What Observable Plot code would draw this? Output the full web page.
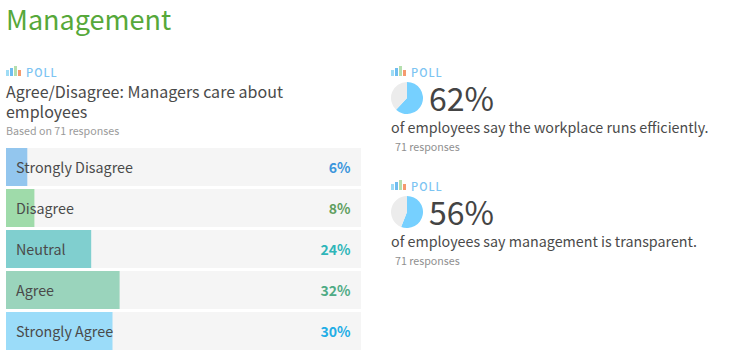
<!DOCTYPE html>
<html><head><meta charset="utf-8">
<script src="https://cdn.jsdelivr.net/npm/d3@7"></script>
<script src="https://cdn.jsdelivr.net/npm/@observablehq/plot@0.6"></script>
<style>
html,body{margin:0;padding:0;background:#fff;width:735px;height:356px;overflow:hidden}
body{position:relative;font-family:"Noto Sans CJK SC","Noto Sans",sans-serif;color:#4a4a4a}
.t{position:absolute;white-space:nowrap;line-height:1}
svg{display:block;background:transparent}
</style></head><body>
<div id="root"></div>
<script>
const categories=["Strongly Disagree","Disagree","Neutral","Agree","Strongly Agree"];
const shares=[6,8,24,32,30];
const barColors=["#93c6ee","#9fdbaa","#80cfcf","#9ad4bc","#9bdcf9"];
const pctColors=["#3b96dc","#5f9e5f","#2fb5b9","#4fab85","#22ade6"];
const pollPcts=[62,56];
const pollTexts=["of employees say the workplace runs efficiently.","of employees say management is transparent."];
const iconVals=[6,8,10,6];
const iconColors=["#9fdcf5","#6fbdf0","#b5dfae","#f59a6e"];
const root=document.getElementById("root");
const font='"Noto Sans CJK SC","Noto Sans",sans-serif';
function text(s,x,y,size,color,extra){const d=document.createElement("div");d.className="t";d.textContent=s;
 d.style.cssText=`left:${x}px;top:${y}px;font-size:${size}px;color:${color};${extra||""}`;root.append(d);return d}
function place(el,x,y){el.style.left=x+"px";el.style.top=y+"px";el.style.position="absolute";root.append(el)}
function icon(x,y){
 const data=iconVals.map((v,i)=>({i,v}));
 place(Plot.plot({width:15,height:10,margin:0,x:{axis:null,domain:[0,1,2,3],paddingInner:0.25,paddingOuter:0,round:false},y:{axis:null,domain:[0,10]},
  marks:[Plot.barY(data,{x:"i",y:"v",fill:d=>iconColors[d.i],insetLeft:0,insetRight:0})]}),x,y);
}
text("Management",6,5,27,"#56a83a");
icon(6,66);
text("POLL",26,67,11,"#7cc4f2","letter-spacing:1px;font-weight:500");
text("Agree/Disagree: Managers care about",6,83,16,"#4a4a4a");
text("employees",6,103,16,"#4a4a4a");
text("Based on 71 responses",6,126,10.7,"#9a9a9a");

const rows=categories.map((c,i)=>({c,v:shares[i],i,full:100}));
place(Plot.plot({width:355,height:202,margin:0,
 x:{axis:null,domain:[0,100],range:[0,355]},
 y:{axis:null,domain:categories,range:[0,202],paddingInner:3/41,paddingOuter:0,round:false},
 marks:[
  Plot.barX(rows,{x:"full",y:"c",fill:"#f5f5f5"}),
  Plot.barX(rows,{x:"v",y:"c",fill:d=>barColors[d.i]}),
  Plot.text(rows,{x:0,dx:9.5,y:"c",dy:1,text:"c",textAnchor:"start",fill:"#4a4a4a",fontSize:14.3,fontFamily:font}),
  Plot.text(rows,{x:"full",dx:-11,y:"c",dy:1,text:d=>d.v+"%",textAnchor:"end",fill:d=>pctColors[d.i],fontSize:14,fontWeight:600,fontFamily:font})
 ]}),6,148);

function pie(p,x,y){
 const slices=d3.pie().sort(null)([p,100-p]);
 const arc=d3.arc().innerRadius(0).outerRadius(16);
 const fills=["#76d0ff","#ececec"];
 place(Plot.plot({width:32,height:32,margin:0,x:{axis:null,domain:[0,1]},y:{axis:null,domain:[0,1]},
  marks:[(index,scales,values,dims)=>{
   const g=d3.create("svg:g").attr("transform",`translate(${dims.width/2},${dims.height/2})`);
   g.selectAll("path").data(slices).join("path").attr("d",arc).attr("fill",(d,i)=>fills[i]);
   return g.node();
  }]}),x,y);
}
[[66,82,0],[180,196,1]].forEach(([iy,py,k])=>{
 icon(391,iy);
 text("POLL",411,iy+1,11,"#7cc4f2","letter-spacing:1px;font-weight:500");
 pie(pollPcts[k],391,py);
 text(pollPcts[k]+"%",429,py-1,32,"#444");
 text(pollTexts[k],391,py+38,14.3,"#4a4a4a");
 text("71 responses",395,py+60,10.7,"#8f8f8f");
});
</script></body></html>
